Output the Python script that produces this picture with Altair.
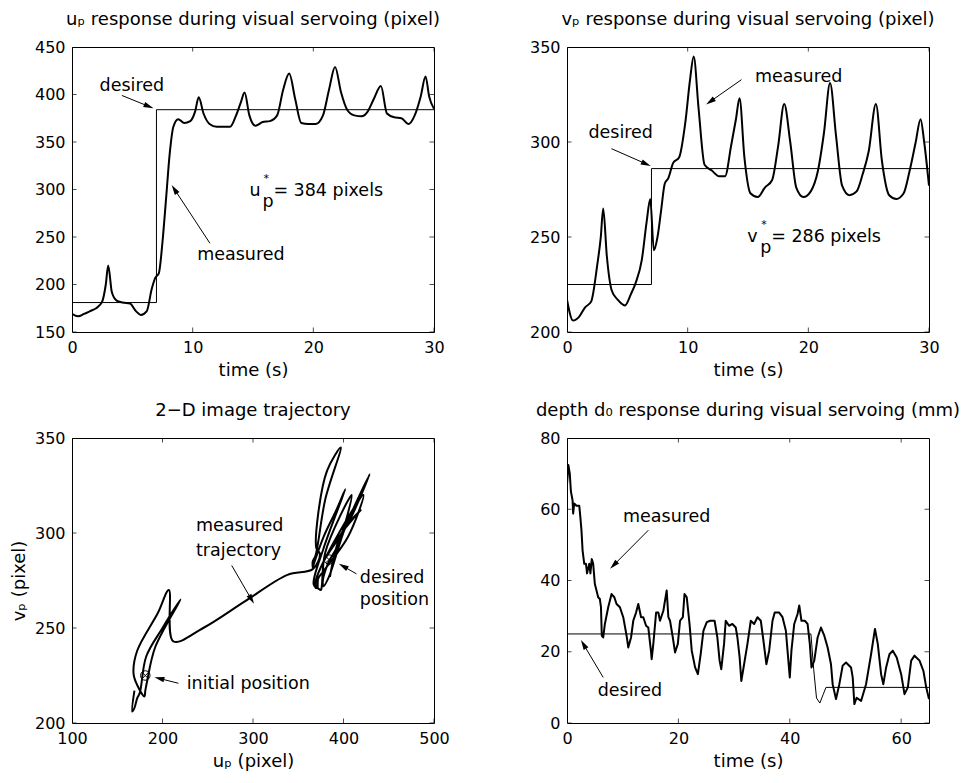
import math
import altair as alt
import pandas as pd

FONT = "DejaVu Sans"
W, H = 362, 285
LS, TS, AS = 16, 18, 17.5

# ---------------- data ----------------
T = [0, 0.5, 1.0, 1.5, 2.0, 2.5, 2.8, 3.0, 3.3, 3.7, 4.2, 4.8, 5.3, 5.7, 6.2, 6.6, 6.9, 7.2,
     7.5, 7.8, 8.1, 8.4, 8.8, 9.3, 9.8, 10.2, 10.5, 10.9, 11.4, 12.0, 12.6, 13.1, 13.6, 14.0,
     14.3, 14.7, 15.2, 15.8, 16.4, 17.0, 17.5, 18.0, 18.5, 19.0, 19.6, 20.2, 20.8, 21.3, 21.8,
     22.3, 22.8, 23.4, 24.0, 24.5, 25.0, 25.6, 26.1, 26.7, 27.3, 27.9, 28.4, 28.9, 29.3, 29.6, 30.0]
U = [169, 166.5, 169, 172, 175, 182, 200, 220, 192, 183, 181, 180, 172, 168, 172, 195, 207, 212,
     245, 291, 338, 366, 374, 370, 372, 382, 397, 380, 369, 366, 366, 366, 378, 392,
     402, 378, 367, 371, 372, 378, 405, 422, 395, 370, 369, 369, 378, 405, 429,
     402, 384, 378, 377, 382, 395, 409, 380, 376, 375, 369, 378, 398, 419, 398, 385]
V = [217, 206, 208, 213, 216, 235, 250, 265, 240, 222, 217, 214, 220, 226, 238, 258, 270, 243,
     250, 264, 278, 281, 289, 292, 310, 333, 345, 318, 288, 285, 282, 282, 298, 312,
     323, 292, 273, 271, 276, 280, 298, 320, 300, 276, 271, 274, 285, 305, 331,
     303, 277, 272, 274, 283, 295, 320, 290, 272, 270, 273, 285, 300, 312, 300, 277]

DES_T = [0, 7, 7, 30]
U_DES = [181, 181, 384, 384]
V_DES = [225, 225, 286, 286]

D_T = [0, 0.25, 0.5, 0.7, 1.0, 1.1, 1.3, 1.7, 2.2, 2.4, 2.6, 2.8, 3.1, 3.4, 3.6, 4.0, 4.2, 4.45,
       4.7, 5.0, 5.3, 5.6, 5.9, 6.1, 6.25, 6.5, 6.8, 7.4, 8.0, 8.5, 8.9, 9.5, 10.1, 10.7, 11.0,
       11.5, 11.9, 12.4, 12.8, 13.3, 13.7, 14.2, 14.6, 15.1, 15.2, 15.5, 16.0, 16.4, 16.7, 17.3,
       17.9, 18.2, 18.5, 19.0, 19.4, 19.9, 20.3, 20.8, 21.1, 21.5, 22.0, 22.4, 23.0, 23.5, 24.0,
       24.5, 25.1, 25.7, 26.5, 27.0, 27.4, 27.7, 28.2, 28.5, 29.1, 29.7, 30.3, 30.6, 31.0, 31.3,
       31.8, 32.4, 33.0, 33.6, 34.2, 34.8, 35.2, 35.8, 36.3, 36.9, 37.3, 38.1, 38.7, 39.3, 39.7,
       40.0, 40.3, 40.8, 41.4, 41.7, 42.1, 42.7, 43.2, 43.6, 43.9, 44.4, 45.0, 45.6, 46.2, 46.8,
       47.4, 47.7, 48.3, 48.9, 49.5, 50.1, 51.0, 51.3, 51.6, 52.0, 52.8, 53.7, 54.6, 55.3, 55.8,
       56.4, 56.8, 57.3, 57.9, 58.5, 59.2, 60.0, 60.6, 61.2, 61.8, 62.4, 63.3, 64.0, 64.5, 65.0]
D_V = [67, 72.4, 70, 65, 62.5, 58.8, 61.6, 61, 61, 57.8, 54, 48.4, 44.7, 44.7, 42, 44.7, 42, 46,
       44.7, 39, 37.2, 35.3, 34.8, 32.5, 24.5, 24, 27.8, 32.5, 36.2, 35.3, 33.4, 32.5, 29.7, 24.5, 21.2,
       24, 28.7, 31, 33.4, 29.7, 29.7, 27.3, 26.8, 19.8, 17.9, 22.2, 31, 31, 28.7, 31.5,
       37.2, 29.7, 28.7, 24, 19.8, 22.2, 28.7, 29.7, 36.2, 35.3, 27.8, 20.3, 15.6, 13.7, 19.3,
       25.9, 28.3, 28.7, 28.7, 24, 17.5, 15.1, 22.2, 28.7, 27.3, 27.8, 26.8, 24, 18.4, 11.8,
       16.5, 22.2, 28.7, 27.8, 29.7, 28.7, 24, 16.5, 20.3, 28.7, 31, 31, 29.7, 25.9, 18.4,
       12.8, 20.3, 27.8, 30.6, 33, 28.7, 28.7, 27.8, 22.2, 15.6, 17.5, 24, 26.8, 24.5, 21.2,
       16.5, 10.9, 6.7, 10.9, 16.1, 17, 15.6, 12.8, 5.3, 7.1, 6.2, 10.9, 19.3, 26.4, 22.2,
       13.7, 10.9, 15.6, 19.3, 20.3, 18.4, 13.7, 8.1, 10, 17.5, 18.9, 17.5, 14.6, 10, 6.7]
D_DES_T = [0, 43.8, 44.3, 44.8, 45.4, 46.0, 46.5, 65]
D_DES_V = [25, 25, 15, 7, 5.6, 8, 10, 10]

# markers (desired initial / final image position)
MARK_U = [181, 384]
MARK_V = [225, 286]

# tick values
P1_XT, P1_YT = [0, 10, 20, 30], [150, 200, 250, 300, 350, 400, 450]
P2_XT, P2_YT = [0, 10, 20, 30], [200, 250, 300, 350]
P3_XT, P3_YT = [100, 200, 300, 400, 500], [200, 250, 300, 350]
P4_XT, P4_YT = [0, 20, 40, 60], [0, 20, 40, 60, 80]

# annotation texts: (text, x, y, align)
P1_TXT = [("desired", 4.96, 409, "center"), ("measured", 14.0, 231, "center")]
P2_TXT = [("measured", 19.2, 334, "center"), ("desired", 4.45, 304.7, "center")]
P3_TXT = [("measured", 237, 303.5, "left"), ("trajectory", 237, 290.3, "left"),
          ("desired", 418, 276.4, "left"), ("position", 418, 264.5, "left"),
          ("initial position", 226.8, 220.5, "left")]
P4_TXT = [("measured", 17.9, 57.8, "center"), ("desired", 11.3, 9.0, "center")]

# arrows: (tail x, tail y, head x, head y)
P1_ARR = [(4.13, 399, 6.75, 385.5), (11.43, 243.4, 8.26, 304.7)]
P2_ARR = [(14.46, 332.8, 11.53, 319.8), (3.68, 296.5, 6.94, 287.4)]
P3_ARR = [(276.5, 282.9, 301.1, 262.7), (414.3, 278.5, 394.8, 283.8), (217.6, 220.9, 191.1, 224.1)]
P4_ARR = [(14.6, 54.1, 7.74, 43.3), (6.5, 12.8, 2.5, 23.3)]

# equation labels: (main letter, x, y)
P1_EQ = ("u", 14.7, 293.2, "= 384 pixels")
P2_EQ = ("v", 14.93, 247.4, "= 286 pixels")

ARROW_HEAD = "M0,-1L0.55,1L-0.55,1Z"
OTIMES_X = "M-0.7,-0.7L0.7,0.7M-0.7,0.7L0.7,-0.7"


def panel(xdom, ydom, xt, yt, xtitle, ytitle, title, lines, texts, arrows, eq=None, markers=None):
    sx = W / (xdom[1] - xdom[0])
    sy = H / (ydom[1] - ydom[0])
    xs = alt.Scale(domain=xdom, nice=False, zero=False)
    ys = alt.Scale(domain=ydom, nice=False, zero=False)
    xa = alt.Axis(values=xt, title=xtitle, format="d", labelFlush=False)
    ya = alt.Axis(values=yt, title=ytitle, format="d", labelFlush=False)

    def X(f="x"):
        return alt.X(f"{f}:Q", scale=xs, axis=xa)

    def Y(f="y"):
        return alt.Y(f"{f}:Q", scale=ys, axis=ya)

    layers = []
    for xs_, ys_, sw, interp in lines:
        df = pd.DataFrame({"x": xs_, "y": ys_, "i": list(range(len(xs_)))})
        layers.append(alt.Chart(df).mark_line(color="black", strokeWidth=sw, clip=True,
                                              strokeJoin="round", interpolate=interp)
                      .encode(x=X(), y=Y(), order="i:Q"))
    # inner ticks
    xtd = pd.DataFrame({"x": xt})
    ytd = pd.DataFrame({"y": yt})
    for v in (0, H):
        layers.append(alt.Chart(xtd).mark_tick(color="black", size=9, thickness=1, clip=True)
                      .encode(x=X(), y=alt.value(v)))
    for v in (0, W):
        layers.append(alt.Chart(ytd).mark_tick(color="black", size=9, thickness=1, clip=True)
                      .encode(y=Y(), x=alt.value(v)))
    # texts
    for align in ("left", "center"):
        rows = [dict(x=a, y=b, t=s) for s, a, b, al in texts if al == align]
        if rows:
            layers.append(alt.Chart(pd.DataFrame(rows)).mark_text(
                font=FONT, fontSize=AS, color="black", align=align, baseline="middle")
                .encode(x=X(), y=Y(), text="t:N"))
    # arrows
    rows = []
    for a, b, c, d in arrows:
        dxs = (c - a) * sx
        dys = -(d - b) * sy
        L = math.hypot(dxs, dys)
        ux, uy = dxs / L, dys / L
        ang = math.degrees(math.atan2(ux, -uy)) % 360
        cx = c - ux * 5 / sx
        cy = d + uy * 5 / sy
        rows.append(dict(x=a, y=b, x2=cx, y2=cy, hx=cx, hy=cy, ang=ang))
    adf = pd.DataFrame(rows)
    layers.append(alt.Chart(adf).mark_rule(color="black", strokeWidth=1)
                  .encode(x=X(), y=Y(), x2="x2:Q", y2="y2:Q"))
    hdf = adf[["hx", "hy", "ang"]].rename(columns={"hx": "x", "hy": "y"})
    layers.append(alt.Chart(hdf).mark_point(shape=ARROW_HEAD, filled=True, size=100,
                                            color="black", opacity=1, strokeWidth=0)
                  .encode(x=X(), y=Y(), angle=alt.Angle("ang:Q", scale=None)))
    if eq is not None:
        letter, ex, ey, rest = eq
        edf = pd.DataFrame({"x": [ex], "y": [ey]})
        base = alt.Chart(edf)
        layers.append(base.mark_text(font=FONT, fontSize=AS, align="left", baseline="alphabetic",
                                     color="black", text=letter).encode(x=X(), y=Y()))
        layers.append(base.mark_text(font=FONT, fontSize=AS, align="left", baseline="alphabetic",
                                     color="black", text="p", dx=13, dy=11).encode(x=X(), y=Y()))
        layers.append(base.mark_text(font=FONT, fontSize=11, align="left", baseline="alphabetic",
                                     color="black", text="*", dx=14, dy=-14).encode(x=X(), y=Y()))
        layers.append(base.mark_text(font=FONT, fontSize=AS, align="left", baseline="alphabetic",
                                     color="black", text=rest, dx=24).encode(x=X(), y=Y()))
    if markers is not None:
        mdf = pd.DataFrame({"x": markers[0], "y": markers[1]})
        layers.append(alt.Chart(mdf).mark_point(shape="circle", size=90, color="black",
                                                strokeWidth=1, filled=False, opacity=1)
                      .encode(x=X(), y=Y()))
        layers.append(alt.Chart(mdf).mark_point(shape=OTIMES_X, size=90, color="black",
                                                strokeWidth=1, filled=False, opacity=1)
                      .encode(x=X(), y=Y()))
    return alt.layer(*layers).properties(
        width=W, height=H,
        title=alt.TitleParams(title, fontSize=TS, font=FONT, fontWeight="normal",
                              anchor="middle", frame="group", offset=10, color="black"))


p1 = panel([0, 30], [150, 450], P1_XT, P1_YT, "time (s)", None,
           "uₚ response during visual servoing (pixel)",
           [(T, U, 2, "monotone"), (DES_T, U_DES, 1, "linear")], P1_TXT, P1_ARR, eq=P1_EQ)
p2 = panel([0, 30], [200, 350], P2_XT, P2_YT, "time (s)", None,
           "vₚ response during visual servoing (pixel)",
           [(T, V, 2, "monotone"), (DES_T, V_DES, 1, "linear")], P2_TXT, P2_ARR, eq=P2_EQ)
p3 = panel([100, 500], [200, 350], P3_XT, P3_YT, "uₚ (pixel)", "vₚ (pixel)",
           "2−D image trajectory",
           [(U, V, 2, "catmull-rom")], P3_TXT, P3_ARR, markers=(MARK_U, MARK_V))
p4 = panel([0, 65], [0, 80], P4_XT, P4_YT, "time (s)", None,
           "depth d₀ response during visual servoing (mm)",
           [(D_T, D_V, 2, "linear"), (D_DES_T, D_DES_V, 1, "linear")], P4_TXT, P4_ARR)

chart = alt.concat(p1, p2, p3, p4, columns=2, spacing={"row": 21, "column": 78}).properties(
    padding={"left": 9, "top": 10, "right": 0, "bottom": 0}
).configure_axis(
    labelFont=FONT, titleFont=FONT, labelFontSize=LS, titleFontSize=TS,
    titleFontWeight="normal", labelColor="black", titleColor="black",
    grid=False, ticks=False, domain=False, labelPadding=7, titlePadding=6
).configure_view(stroke="black", strokeWidth=1).configure_text(font=FONT)

chart.save("out.html", embed_options={"renderer": "svg", "actions": False})
